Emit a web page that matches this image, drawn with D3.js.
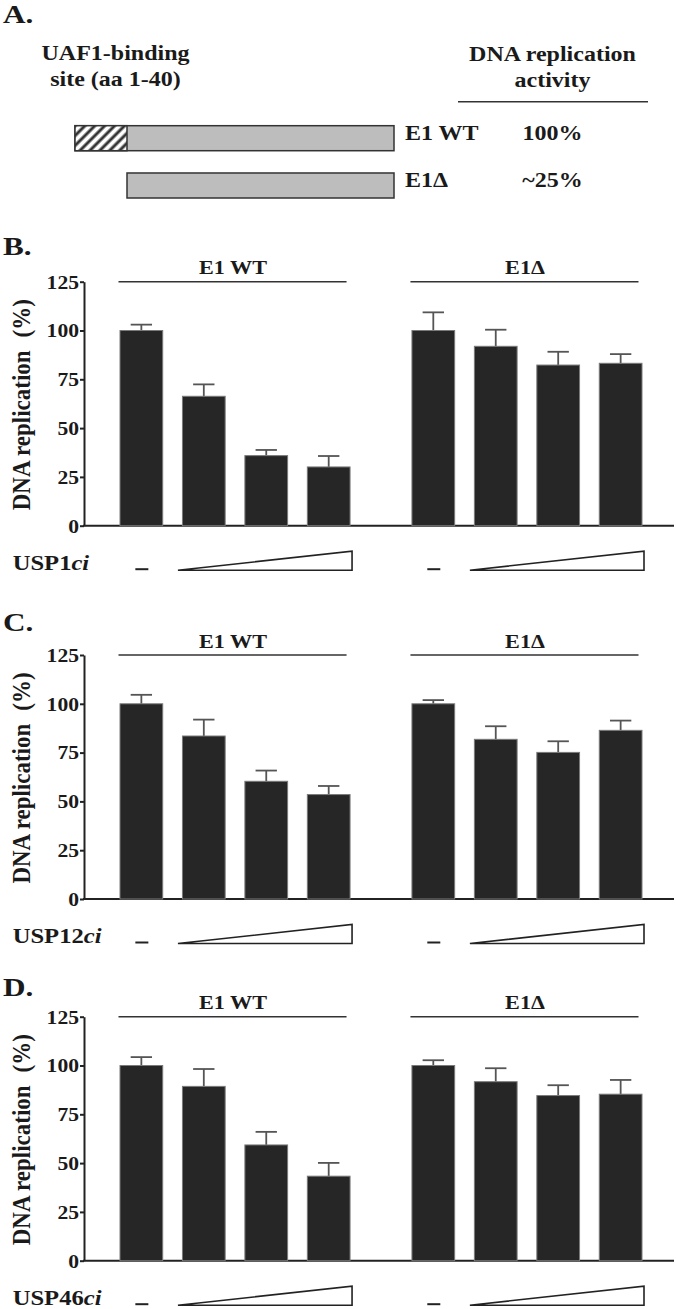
<!DOCTYPE html>
<html>
<head>
<meta charset="utf-8">
<script src="https://cdn.jsdelivr.net/npm/d3@7"></script>
<style>
  html, body { margin: 0; padding: 0; background: #fff; }
  svg { display: block; }
  text { font-family: "Liberation Serif", "Times New Roman", serif; font-weight: bold; fill: #1a1a1a; }
</style>
</head>
<body>
<svg id="chart" width="676" height="1309"></svg>
<script>
// ---------------- DATA ----------------
// Panel A: E1 constructs
const constructs = ["E1 WT", "E1Δ"];
const constructStartAa = [1, 41];
const e1LengthAa = 629;
const bindingSiteAa = [1, 40];
const activityLabels = ["100%", "~25%"];

// Panels B-D
const panelLabels = ["B.", "C.", "D."];
const inhibitors = ["USP1", "USP12", "USP46"];
const groups = ["E1 WT", "E1Δ"];
const doses = ["none", "low", "mid", "high"];
const yTicks = [0, 25, 50, 75, 100, 125];

const usp1WT = [100, 66.3, 35.9, 30.1];
const usp1WTErr = [3.0, 6.1, 2.9, 5.6];
const usp1Del = [100, 91.9, 82.3, 83.2];
const usp1DelErr = [9.3, 8.5, 6.8, 4.7];

const usp12WT = [100, 83.5, 60.3, 53.5];
const usp12WTErr = [4.6, 8.4, 5.5, 4.4];
const usp12Del = [100, 81.8, 75.1, 86.4];
const usp12DelErr = [1.9, 6.7, 5.7, 5.0];

const usp46WT = [100, 89.3, 59.3, 43.3];
const usp46WTErr = [4.3, 8.9, 6.7, 6.8];
const usp46Del = [100, 91.7, 84.6, 85.3];
const usp46DelErr = [2.7, 6.9, 5.3, 7.3];

const panelValues = [
  [usp1WT, usp1Del], [usp12WT, usp12Del], [usp46WT, usp46Del]
];
const panelErrors = [
  [usp1WTErr, usp1DelErr], [usp12WTErr, usp12DelErr], [usp46WTErr, usp46DelErr]
];

// ---------------- LAYOUT ----------------
const SX = 1.2;               // horizontal text stretch of the original figure
const svg = d3.select("#chart");
svg.append("rect").attr("width", 676).attr("height", 1309).attr("fill", "#fff");

function stext(g, x, y, str, size, anchor) {
  return g.append("text")
    .attr("transform", `translate(${x},${y}) scale(${SX},1)`)
    .attr("text-anchor", anchor || "start")
    .style("font-size", size + "px")
    .text(str);
}

// hatch pattern
const defs = svg.append("defs");
const pat = defs.append("pattern").attr("id", "hatch")
  .attr("patternUnits", "userSpaceOnUse").attr("width", 7).attr("height", 7)
  .attr("patternTransform", "rotate(45)");
pat.append("rect").attr("width", 7).attr("height", 7).attr("fill", "#fff");
pat.append("line").attr("x1", 2).attr("x2", 2).attr("y1", 0).attr("y2", 7)
  .attr("stroke", "#333").attr("stroke-width", 3);

// ---------------- PANEL A ----------------
const gA = svg.append("g");
stext(gA, 3, 23, "A.", 26);
stext(gA, 115.5, 60, "UAF1-binding", 20, "middle");
stext(gA, 115.5, 86, "site (aa 1-40)", 20, "middle");
stext(gA, 552.5, 61, "DNA replication", 20, "middle");
stext(gA, 552.5, 87, "activity", 20, "middle");
gA.append("line").attr("x1", 458).attr("x2", 648).attr("y1", 101.7).attr("y2", 101.7)
  .attr("stroke", "#333").attr("stroke-width", 1.6);

const xAa = d3.scaleLinear().domain([1, 41, e1LengthAa]).range([75, 127, 394]);
const yRow = d3.scaleBand().domain(constructs).range([125.7, 198]).paddingInner(0.471);

constructs.forEach((c, i) => {
  const y0 = yRow(c), h = yRow.bandwidth();
  gA.append("rect")
    .attr("x", xAa(constructStartAa[i])).attr("y", y0)
    .attr("width", xAa(e1LengthAa) - xAa(constructStartAa[i])).attr("height", h)
    .attr("fill", "#bdbdbd").attr("stroke", "#333").attr("stroke-width", 1.5);
  if (constructStartAa[i] <= bindingSiteAa[0]) {
    gA.append("rect")
      .attr("x", xAa(bindingSiteAa[0])).attr("y", y0)
      .attr("width", xAa(bindingSiteAa[1] + 1) - xAa(bindingSiteAa[0])).attr("height", h)
      .attr("fill", "url(#hatch)").attr("stroke", "#333").attr("stroke-width", 1.5);
  }
  stext(gA, 405, y0 + 13.8, c, 20);
  stext(gA, 552.5, y0 + 13.8, activityLabels[i], 20, "middle");
});

// ---------------- PANELS B-D ----------------
const panelTop = [281.7, 655, 1016.7];
const panelLabelY = [255, 631, 996];
const plotH = 244;
const axisX = 84;
const axisRight = 674;

const xg = d3.scaleBand().domain(groups).range([120, 642]).paddingInner(0.212).paddingOuter(0);
const xb = d3.scaleBand().domain(doses).range([0, xg.bandwidth()]).paddingInner(0.316).paddingOuter(0);

panelLabels.forEach((lab, p) => {
  const top = panelTop[p], zero = top + plotH;
  const y = d3.scaleLinear().domain([0, 125]).range([zero, top]);
  const g = svg.append("g");

  stext(g, 3, panelLabelY[p], lab, 26);

  // y axis
  const ax = g.append("g").attr("transform", `translate(${axisX},0)`)
    .call(d3.axisLeft(y).tickValues(yTicks).tickSize(4).tickSizeOuter(0));
  ax.select(".domain").attr("stroke", "#222").attr("stroke-width", 2);
  ax.selectAll(".tick line").attr("stroke", "#222").attr("stroke-width", 2);
  ax.selectAll(".tick text")
    .attr("x", null).attr("dy", null)
    .attr("transform", `translate(-5,6.3) scale(${SX},1)`)
    .attr("fill", "#1a1a1a")
    .style("font-family", '"Liberation Serif", "Times New Roman", serif')
    .style("font-weight", "bold").style("font-size", "18px");

  // x baseline
  g.append("line").attr("x1", axisX - 1).attr("x2", axisRight).attr("y1", zero).attr("y2", zero)
    .attr("stroke", "#222").attr("stroke-width", 2);

  // y label
  const yl = g.append("text")
    .attr("transform", `translate(30,${(top + zero) / 2 + 1}) rotate(-90) scale(1,1.12)`)
    .attr("text-anchor", "middle").style("font-size", "23px");
  yl.append("tspan").text("DNA replication");
  yl.append("tspan").attr("dx", 13).text("(%)");

  groups.forEach((grp, gi) => {
    const vals = panelValues[p][gi], errs = panelErrors[p][gi];
    const gx = xg(grp);
    // header
    g.append("line").attr("x1", gx - 1.5).attr("x2", gx + xg.bandwidth() - 3.5)
      .attr("y1", y(125)).attr("y2", y(125)).attr("stroke", "#333").attr("stroke-width", 1.6);
    stext(g, gx + xg.bandwidth() / 2 - 2, y(125) - 7.5, grp, 18.5, "middle");

    doses.forEach((d, i) => {
      const bx = gx + xb(d), bw = xb.bandwidth(), cx = bx + bw / 2;
      const v = vals[i], e = errs[i];
      // error bar
      g.append("line").attr("x1", cx).attr("x2", cx).attr("y1", y(v)).attr("y2", y(v + e))
        .attr("stroke", "#555").attr("stroke-width", 1.8);
      g.append("line").attr("x1", cx - bw / 4).attr("x2", cx + bw / 4)
        .attr("y1", y(v + e)).attr("y2", y(v + e))
        .attr("stroke", "#555").attr("stroke-width", 1.8);
      g.append("rect").attr("x", bx).attr("y", y(v)).attr("width", bw).attr("height", zero - y(v))
        .attr("fill", "#262626").attr("stroke", "#7a7a7a").attr("stroke-width", 1);
    });

    // dose row
    const base = zero + 44.5;
    const c0 = gx + xb(doses[0]) + xb.bandwidth() / 2;
    g.append("line").attr("x1", c0 - 6).attr("x2", c0 + 7).attr("y1", base - 1).attr("y2", base - 1)
      .attr("stroke", "#222").attr("stroke-width", 2);
    const tx0 = gx + xb(doses[1]) - 4.5, tx1 = gx + xg.bandwidth() + 2;
    g.append("path").attr("d", `M${tx0},${base}L${tx1},${base}L${tx1},${base - 19}Z`)
      .attr("fill", "#fff").attr("stroke", "#222").attr("stroke-width", 1.6)
      .attr("stroke-linejoin", "miter");
  });

  // inhibitor label
  const lt = g.append("text")
    .attr("transform", `translate(12.7,${zero + 44}) scale(${SX},1)`)
    .style("font-size", "20.5px");
  lt.append("tspan").text(inhibitors[p]);
  lt.append("tspan").style("font-style", "italic").text("ci");
});
</script>
</body>
</html>
